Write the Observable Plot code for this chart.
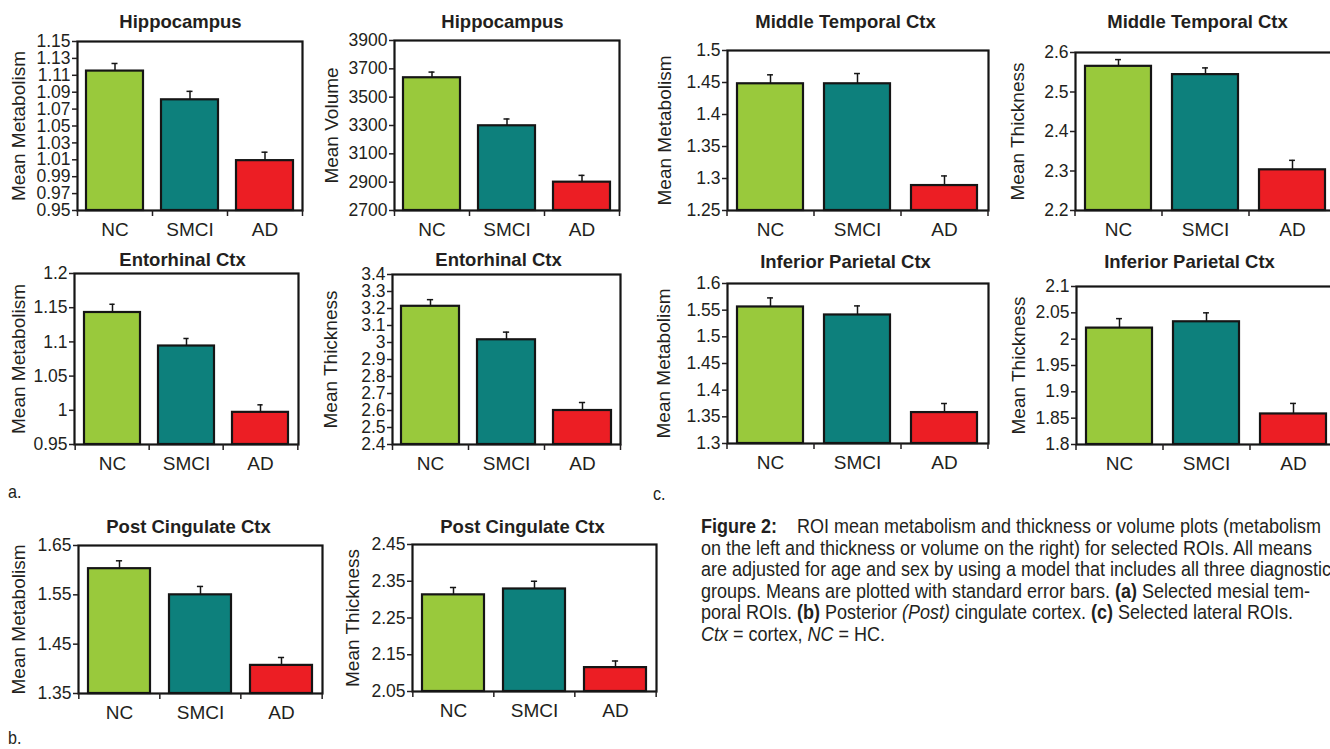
<!DOCTYPE html>
<html><head><meta charset="utf-8">
<script src="https://cdn.jsdelivr.net/npm/d3@7"></script>
<script src="https://cdn.jsdelivr.net/npm/@observablehq/plot@0.6"></script>
<style>
body{margin:0;background:#fff;}
#fig{position:relative;width:1330px;height:749px;overflow:hidden;background:#fff;color:#231f20;}
#fig svg{position:absolute;}
.tag{position:absolute;font-family:"Liberation Sans",Arial,sans-serif;font-size:19px;line-height:19px;transform:scaleX(0.85);transform-origin:left top;}
.cap{position:absolute;left:701px;top:515px;font-family:"Liberation Sans",Arial,sans-serif;font-size:20.5px;line-height:21.5px;white-space:nowrap;color:#231f20;transform-origin:left top;}
.cap .fig{font-weight:bold;display:inline-block;}
.cap .ln{display:block;}
.cap .ln span.m{display:inline;}
</style></head>
<body><div id="fig">
<div class="tag" style="left:8px;top:482px;">a.</div>
<div class="tag" style="left:653px;top:484px;">c.</div>
<div class="tag" style="left:8px;top:728px;">b.</div>
<div class="cap" id="cap">
<div class="ln"><span class="fig" id="figlab">Figure 2:</span>ROI mean metabolism and thickness or volume plots (metabolism</div>
<div class="ln"><span class="m" id="measure">on the left and thickness or volume on the right) for selected ROIs. All means</span></div>
<div class="ln">are adjusted for age and sex by using a model that includes all three diagnostic</div>
<div class="ln">groups. Means are plotted with standard error bars. <b>(a)</b> Selected mesial tem-</div>
<div class="ln">poral ROIs. <b>(b)</b> Posterior <i>(Post)</i> cingulate cortex. <b>(c)</b> Selected lateral ROIs.</div>
<div class="ln"><i>Ctx</i> = cortex, <i>NC</i> = HC.</div>
</div>
</div>
<script>
const FONT = "Liberation Sans, Arial, Helvetica, sans-serif";
const groups = ["NC", "SMCI", "AD"];
const groupColors = ["#99c93c", "#0d807c", "#ec1e24"];

// Hippocampus metabolism
const hippMetab = [1.115, 1.081, 1.009];
const hippMetabSE = [0.009, 0.010, 0.010];
const hippMetabTicks = [0.95, 0.97, 0.99, 1.01, 1.03, 1.05, 1.07, 1.09, 1.11, 1.13, 1.15];
// Hippocampus volume
const hippVol = [3637, 3298, 2900];
const hippVolSE = [40, 48, 48];
const hippVolTicks = [2700, 2900, 3100, 3300, 3500, 3700, 3900];
// Entorhinal metabolism
const entMetab = [1.143, 1.094, 0.997];
const entMetabSE = [0.012, 0.011, 0.011];
const entMetabTicks = [0.95, 1, 1.05, 1.1, 1.15, 1.2];
// Entorhinal thickness
const entThick = [3.213, 3.016, 2.600];
const entThickSE = [0.039, 0.045, 0.047];
const entThickTicks = [2.4, 2.5, 2.6, 2.7, 2.8, 2.9, 3, 3.1, 3.2, 3.3, 3.4];
// Middle temporal metabolism
const mtMetab = [1.448, 1.448, 1.289];
const mtMetabSE = [0.014, 0.016, 0.015];
const mtMetabTicks = [1.25, 1.3, 1.35, 1.4, 1.45, 1.5];
// Middle temporal thickness
const mtThick = [2.565, 2.544, 2.303];
const mtThickSE = [0.017, 0.017, 0.024];
const mtThickTicks = [2.2, 2.3, 2.4, 2.5, 2.6];
// Inferior parietal metabolism
const ipMetab = [1.556, 1.541, 1.358];
const ipMetabSE = [0.017, 0.017, 0.017];
const ipMetabTicks = [1.3, 1.35, 1.4, 1.45, 1.5, 1.55, 1.6];
// Inferior parietal thickness
const ipThick = [2.021, 2.033, 1.858];
const ipThickSE = [0.018, 0.017, 0.020];
const ipThickTicks = [1.8, 1.85, 1.9, 1.95, 2, 2.05, 2.1];
// Post cingulate metabolism
const pcMetab = [1.603, 1.550, 1.407];
const pcMetabSE = [0.016, 0.017, 0.016];
const pcMetabTicks = [1.35, 1.45, 1.55, 1.65];
// Post cingulate thickness
const pcThick = [2.313, 2.329, 2.115];
const pcThickSE = [0.020, 0.021, 0.018];
const pcThickTicks = [2.05, 2.15, 2.25, 2.35, 2.45];

// layout: frame box [left, right, top, bottom], title centre, y-label centre x, svg top
const panels = [
  {title: "Hippocampus", label: "Mean Metabolism", values: hippMetab, se: hippMetabSE, ticks: hippMetabTicks, box: [77, 302, 41, 210], titleAt: [180, 22], labelX: 18, top: 0},
  {title: "Hippocampus", label: "Mean Volume", values: hippVol, se: hippVolSE, ticks: hippVolTicks, box: [394, 619, 40, 210], titleAt: [502, 22], labelX: 331, top: 0},
  {title: "Middle Temporal Ctx", label: "Mean Metabolism", values: mtMetab, se: mtMetabSE, ticks: mtMetabTicks, box: [727, 988, 50, 210], titleAt: [845, 22], labelX: 664, top: 0},
  {title: "Middle Temporal Ctx", label: "Mean Thickness", values: mtThick, se: mtThickSE, ticks: mtThickTicks, box: [1075, 1336, 52, 210], titleAt: [1197, 22], labelX: 1017, top: 0},
  {title: "Entorhinal Ctx", label: "Mean Metabolism", values: entMetab, se: entMetabSE, ticks: entMetabTicks, box: [74, 298, 273, 444], titleAt: [182, 260], labelX: 18, top: 240},
  {title: "Entorhinal Ctx", label: "Mean Thickness", values: entThick, se: entThickSE, ticks: entThickTicks, box: [392, 620, 274, 444], titleAt: [498, 260], labelX: 330, top: 240},
  {title: "Inferior Parietal Ctx", label: "Mean Metabolism", values: ipMetab, se: ipMetabSE, ticks: ipMetabTicks, box: [727, 988, 283, 443], titleAt: [845, 262], labelX: 663, top: 240},
  {title: "Inferior Parietal Ctx", label: "Mean Thickness", values: ipThick, se: ipThickSE, ticks: ipThickTicks, box: [1076, 1337, 286, 444], titleAt: [1189, 262], labelX: 1018, top: 240},
  {title: "Post Cingulate Ctx", label: "Mean Metabolism", values: pcMetab, se: pcMetabSE, ticks: pcMetabTicks, box: [78, 322, 545, 693], titleAt: [188, 527], labelX: 18, top: 500},
  {title: "Post Cingulate Ctx", label: "Mean Thickness", values: pcThick, se: pcThickSE, ticks: pcThickTicks, box: [412, 656, 544, 691], titleAt: [522, 527], labelX: 352, top: 500}
];

const fig = document.getElementById("fig");
const INK = "#151515";

function panel(p) {
  const [fl, fr, ft, fb] = p.box;
  const svgLeft = p.labelX - 16;
  const svgTop = p.top;
  const width = fr + 10 - svgLeft;
  const height = fb + 42 - svgTop;
  const step = (fr - fl) / groups.length;
  const pad = 0.24;
  const bw = step * (1 - pad);
  const capInset = (bw - 6) / 2;
  const data = groups.map((g, i) => ({group: g, value: p.values[i], se: p.se[i]}));
  const y0 = p.ticks[0], y1 = p.ticks[p.ticks.length - 1];
  const chart = Plot.plot({
    width, height,
    marginLeft: fl - svgLeft,
    marginRight: width - (fr - svgLeft),
    marginTop: ft - svgTop,
    marginBottom: height - (fb - svgTop),
    style: {background: "transparent", fontFamily: FONT, color: "#231f20", overflow: "visible"},
    x: {domain: groups, paddingInner: pad, paddingOuter: pad / 2, axis: null},
    y: {domain: [y0, y1], axis: null},
    color: {domain: groups, range: groupColors},
    marks: [
      Plot.barY(data, {x: "group", y1: y0, y2: "value", fill: "group", stroke: INK, strokeWidth: 2.2}),
      Plot.ruleX(data, {x: "group", y1: "value", y2: d => d.value + d.se, stroke: INK, strokeWidth: 1.5}),
      Plot.tickY(data, {x: "group", y: d => d.value + d.se, stroke: INK, strokeWidth: 1.5, insetLeft: capInset, insetRight: capInset}),
      Plot.frame({stroke: INK, strokeWidth: 2.2}),
      Plot.axisY({ticks: p.ticks, tickSize: 5, tickPadding: 2, tickFormat: d3.format("~g"), fontSize: 17.5, strokeWidth: 1.5, label: null}),
      Plot.axisX({ticks: groups, tickSize: 0, tickPadding: 12, fontSize: 19, label: null}),
      Plot.axisX({ticks: groups, tickSize: 6, tickFormat: () => "", dx: -step / 2, strokeWidth: 1.5, label: null}),
      Plot.axisX({ticks: [groups[groups.length - 1]], tickSize: 6, tickFormat: () => "", dx: step / 2, strokeWidth: 1.5, label: null}),
      Plot.text([p.label], {text: d => d, frameAnchor: "left", dx: p.labelX - fl, rotate: -90, textAnchor: "middle", lineAnchor: "middle", fontSize: 19}),
      Plot.text([p.title], {text: d => d, frameAnchor: "top", dx: p.titleAt[0] - (fl + fr) / 2, dy: p.titleAt[1] - ft, textAnchor: "middle", lineAnchor: "middle", fontSize: 18.5, fontWeight: "bold"})
    ]
  });
  chart.style.left = svgLeft + "px";
  chart.style.top = svgTop + "px";
  chart.style.maxWidth = "none";
  fig.appendChild(chart);
}
panels.forEach(panel);

// condense the caption to the reference's narrow type
const cap = document.getElementById("cap");
const natural = document.getElementById("measure").getBoundingClientRect().width;
const s = 611 / natural;
cap.style.transform = `scaleX(${s})`;
document.getElementById("figlab").style.width = (96 / s) + "px";
</script>
</body></html>
